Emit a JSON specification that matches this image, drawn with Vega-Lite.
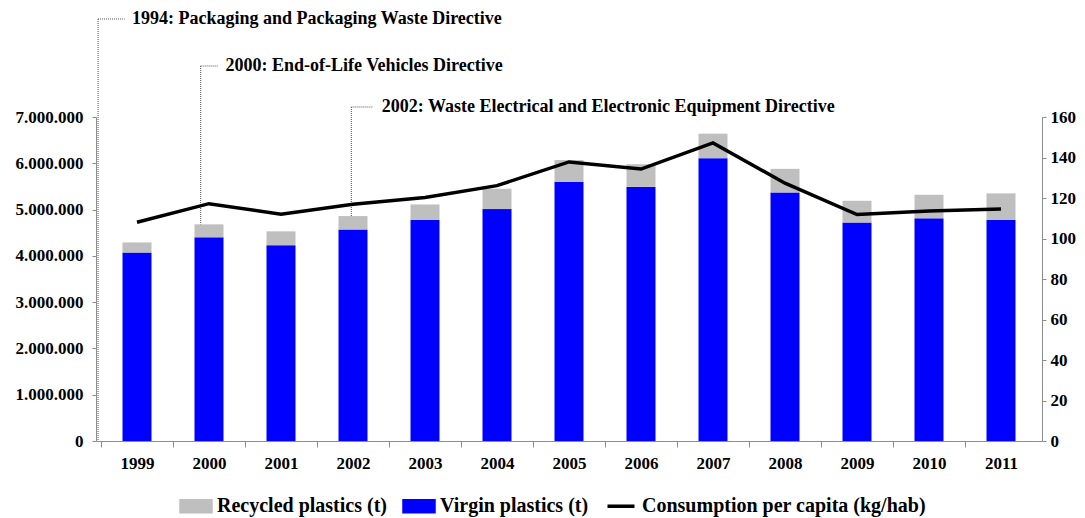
{
  "$schema": "https://vega.github.io/schema/vega-lite/v6.json",
  "autosize": {"type": "none"},
  "width": 946,
  "height": 324,
  "padding": {"left": 96, "top": 117, "right": 43, "bottom": 77},
  "background": "white",
  "config": {
    "view": {"stroke": null},
    "font": "Liberation Serif",
    "axis": {"grid": false, "domainColor": "#8c8c8c", "tickColor": "#8c8c8c", "labelColor": "black", "labelFont": "Liberation Serif", "labelFontSize": 17, "labelFontWeight": "bold", "title": null},
    "locale": {"number": {"decimal": ",", "thousands": ".", "grouping": [3], "currency": ["", " €"]}}
  },
  "datasets": {
    "bars": [
      {"year": 1999, "type": "Virgin plastics (t)", "value": 4070000},
      {"year": 1999, "type": "Recycled plastics (t)", "value": 220000},
      {"year": 2000, "type": "Virgin plastics (t)", "value": 4400000},
      {"year": 2000, "type": "Recycled plastics (t)", "value": 280000},
      {"year": 2001, "type": "Virgin plastics (t)", "value": 4230000},
      {"year": 2001, "type": "Recycled plastics (t)", "value": 300000},
      {"year": 2002, "type": "Virgin plastics (t)", "value": 4570000},
      {"year": 2002, "type": "Recycled plastics (t)", "value": 290000},
      {"year": 2003, "type": "Virgin plastics (t)", "value": 4780000},
      {"year": 2003, "type": "Recycled plastics (t)", "value": 330000},
      {"year": 2004, "type": "Virgin plastics (t)", "value": 5010000},
      {"year": 2004, "type": "Recycled plastics (t)", "value": 440000},
      {"year": 2005, "type": "Virgin plastics (t)", "value": 5600000},
      {"year": 2005, "type": "Recycled plastics (t)", "value": 470000},
      {"year": 2006, "type": "Virgin plastics (t)", "value": 5490000},
      {"year": 2006, "type": "Recycled plastics (t)", "value": 490000},
      {"year": 2007, "type": "Virgin plastics (t)", "value": 6110000},
      {"year": 2007, "type": "Recycled plastics (t)", "value": 530000},
      {"year": 2008, "type": "Virgin plastics (t)", "value": 5370000},
      {"year": 2008, "type": "Recycled plastics (t)", "value": 510000},
      {"year": 2009, "type": "Virgin plastics (t)", "value": 4720000},
      {"year": 2009, "type": "Recycled plastics (t)", "value": 470000},
      {"year": 2010, "type": "Virgin plastics (t)", "value": 4810000},
      {"year": 2010, "type": "Recycled plastics (t)", "value": 510000},
      {"year": 2011, "type": "Virgin plastics (t)", "value": 4780000},
      {"year": 2011, "type": "Recycled plastics (t)", "value": 570000}
    ],
    "line": [
      {"year": 1999, "series": "Consumption per capita (kg/hab)", "kg": 108.0},
      {"year": 2000, "series": "Consumption per capita (kg/hab)", "kg": 117.2},
      {"year": 2001, "series": "Consumption per capita (kg/hab)", "kg": 112.0},
      {"year": 2002, "series": "Consumption per capita (kg/hab)", "kg": 116.9},
      {"year": 2003, "series": "Consumption per capita (kg/hab)", "kg": 120.3},
      {"year": 2004, "series": "Consumption per capita (kg/hab)", "kg": 126.1},
      {"year": 2005, "series": "Consumption per capita (kg/hab)", "kg": 137.8},
      {"year": 2006, "series": "Consumption per capita (kg/hab)", "kg": 134.3},
      {"year": 2007, "series": "Consumption per capita (kg/hab)", "kg": 147.2},
      {"year": 2008, "series": "Consumption per capita (kg/hab)", "kg": 127.3},
      {"year": 2009, "series": "Consumption per capita (kg/hab)", "kg": 111.8},
      {"year": 2010, "series": "Consumption per capita (kg/hab)", "kg": 113.6},
      {"year": 2011, "series": "Consumption per capita (kg/hab)", "kg": 114.6}
    ],
    "segments": [
      {"x": 1998.459, "x2": 1998.459, "y": 9117000, "y2": 0},
      {"x": 1998.459, "x2": 1998.83, "y": 9117000, "y2": 9117000},
      {"x": 1999.884, "x2": 1999.884, "y": 8102000, "y2": 4680000},
      {"x": 1999.884, "x2": 2000.12, "y": 8102000, "y2": 8102000},
      {"x": 2001.977, "x2": 2001.977, "y": 7216000, "y2": 4860000},
      {"x": 2001.977, "x2": 2002.28, "y": 7216000, "y2": 7216000}
    ],
    "notes": [
      {"x": 1998.93, "y": 9117000, "label": "1994: Packaging and Packaging Waste Directive"},
      {"x": 2000.23, "y": 8102000, "label": "2000: End-of-Life Vehicles Directive"},
      {"x": 2002.40, "y": 7216000, "label": "2002: Waste Electrical and Electronic Equipment Directive"}
    ]
  },
  "layer": [
    {
      "layer": [
        {
          "data": {"name": "bars"},
          "mark": {"type": "bar", "size": 29},
          "encoding": {
            "x": {"field": "year", "type": "quantitative", "scale": {"domain": [1998.5, 2011.5], "nice": false, "zero": false},
              "axis": {"values": [1999, 2000, 2001, 2002, 2003, 2004, 2005, 2006, 2007, 2008, 2009, 2010, 2011], "format": "d", "tickOffset": -36.385, "labelOffset": 36.385, "tickSize": 6, "labelPadding": 8, "labelFlush": false, "labelOverlap": false}},
            "y": {"field": "value", "type": "quantitative", "stack": "zero", "scale": {"domain": [0, 7000000], "nice": false},
              "axis": {"orient": "left", "values": [0, 1000000, 2000000, 3000000, 4000000, 5000000, 6000000, 7000000], "format": ",d", "tickSize": 4, "labelPadding": 9}},
            "color": {"field": "type", "type": "nominal",
              "scale": {"domain": ["Recycled plastics (t)", "Virgin plastics (t)", "Consumption per capita (kg/hab)"], "range": ["#bfbfbf", "#0000ff", "#000000"]},
              "legend": {
                "title": null, "orient": "none", "direction": "horizontal", "legendX": 83, "legendY": 372,
                "labelFont": "Liberation Serif", "labelFontSize": 20, "labelFontWeight": "bold", "labelColor": "black",
                "symbolSize": 900, "labelOffset": 4, "columnPadding": 10, "padding": 0, "labelLimit": 400,
                "encode": {"symbols": {"update": {
                  "shape": {"signal": "datum.value === 'Consumption per capita (kg/hab)' ? 'M-0.9,0H0.9M-1,-0.37L-1,-0.37M1,0.37L1,0.37' : 'M-1,-0.37H1V0.37H-1Z'"},
                  "fill": {"signal": "datum.value === 'Consumption per capita (kg/hab)' ? 'transparent' : scale('color', datum.value)"},
                  "stroke": {"signal": "datum.value === 'Consumption per capita (kg/hab)' ? 'black' : 'transparent'"},
                  "strokeWidth": {"value": 3.5},
                  "opacity": {"value": 1}
                }}}
              }},
            "order": {"field": "type", "sort": "descending"}
          }
        },
        {
          "data": {"name": "segments"},
          "mark": {"type": "rule", "strokeDash": [1, 1], "color": "#555555", "strokeWidth": 1},
          "encoding": {
            "x": {"field": "x", "type": "quantitative"},
            "x2": {"field": "x2"},
            "y": {"field": "y", "type": "quantitative", "scale": {"domain": [0, 7000000], "nice": false}},
            "y2": {"field": "y2"}
          }
        },
        {
          "data": {"name": "notes"},
          "mark": {"type": "text", "align": "left", "baseline": "middle", "font": "Liberation Serif", "fontSize": 18, "fontWeight": "bold", "color": "black"},
          "encoding": {
            "x": {"field": "x", "type": "quantitative"},
            "y": {"field": "y", "type": "quantitative", "scale": {"domain": [0, 7000000], "nice": false}},
            "text": {"field": "label"}
          }
        }
      ]
    },
    {
      "data": {"name": "line"},
      "mark": {"type": "line", "strokeWidth": 3.5, "strokeJoin": "miter"},
      "encoding": {
        "x": {"field": "year", "type": "quantitative"},
        "y": {"field": "kg", "type": "quantitative", "scale": {"domain": [0, 160], "nice": false},
          "axis": {"orient": "right", "values": [0, 20, 40, 60, 80, 100, 120, 140, 160], "tickSize": 4, "labelPadding": 4}},
        "color": {"field": "series", "type": "nominal"}
      }
    }
  ],
  "resolve": {"scale": {"y": "independent"}}
}
